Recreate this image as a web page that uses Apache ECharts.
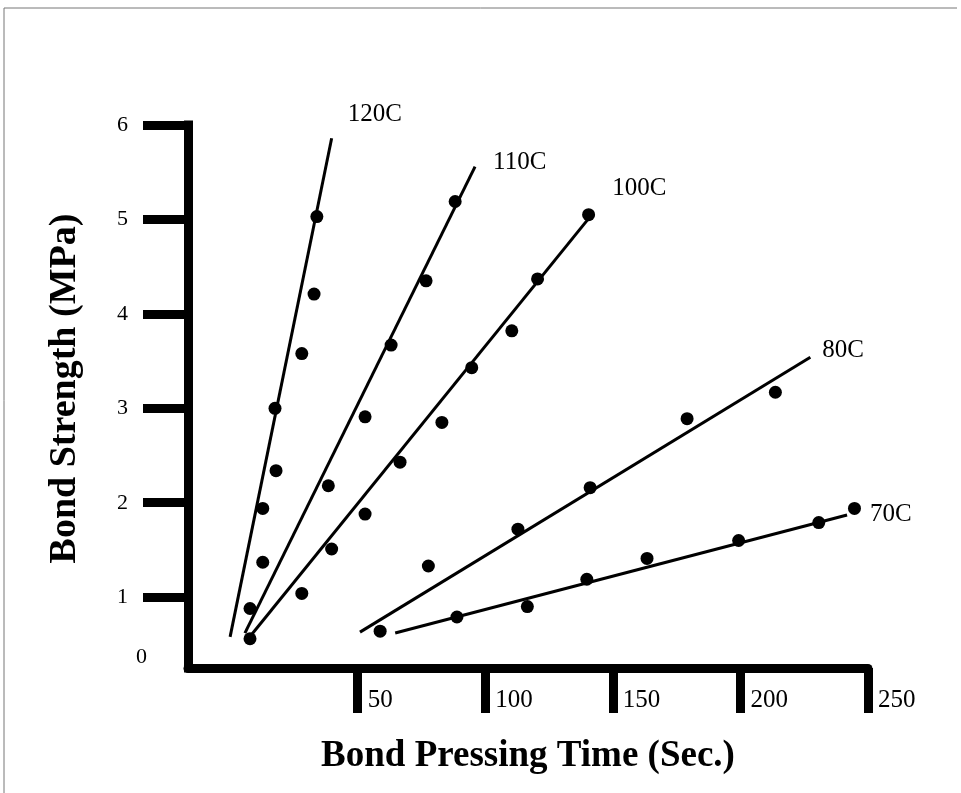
<!DOCTYPE html>
<html><head><meta charset="utf-8">
<script src="https://cdn.jsdelivr.net/npm/echarts@6/dist/echarts.min.js"></script>
<style>html,body{margin:0;padding:0;background:#fff}#c{width:961px;height:793px}</style>
</head><body><div id="c"></div>
<script>
// ---- data ----
const xTicks = [50, 100, 150, 200, 250];
const yTicks = [1, 2, 3, 4, 5, 6];
const zeroLabel = ['0'];
const seriesNames = ['120C', '110C', '100C', '80C', '70C'];

const pts120 = [[12.8,1.37],[12.8,1.94],[18.0,2.34],[17.6,3.00],[28.1,3.58],[32.9,4.21],[34.0,5.03]];
const pts110 = [[7.8,0.56],[7.8,0.88],[38.5,2.18],[52.9,2.91],[63.1,3.67],[76.8,4.35],[88.2,5.19]];
const pts100 = [[28.1,1.04],[39.8,1.51],[52.9,1.88],[66.6,2.43],[83.0,2.85],[94.7,3.43],[110.4,3.82],[120.5,4.37],[140.5,5.05]];
const pts80  = [[58.8,0.64],[77.7,1.33],[112.8,1.72],[141.1,2.16],[179.1,2.89],[213.7,3.17]];
const pts70  = [[88.9,0.79],[116.5,0.90],[139.8,1.19],[163.4,1.41],[199.3,1.60],[230.7,1.79],[244.7,1.94]];

const fit120 = [[0.0,0.58],[39.8,5.86]];
const fit110 = [[5.8,0.62],[96.0,5.56]];
const fit100 = [[7.1,0.56],[142.3,5.07]];
const fit80  = [[50.9,0.63],[227.4,3.54]];
const fit70  = [[64.7,0.62],[241.8,1.87]];

// ---- chart ----
const points = [pts120, pts110, pts100, pts80, pts70];
const fits = [fit120, fit110, fit100, fit80, fit70];
const labelOffsets = [[16,-24],[18,-4],[19,-24],[12,-7],[23,-1]];
const serif = 'Liberation Serif';

const series = [];
seriesNames.forEach((name, i) => {
  series.push({
    name: name, type: 'line', data: fits[i], symbol: 'none',
    lineStyle: {color: '#000', width: 3},
    endLabel: {show: true, formatter: '{a}', distance: 0, offset: labelOffsets[i],
      fontFamily: serif, fontSize: 25, color: '#000'},
    z: 2
  });
  series.push({
    name: name + ' data', type: 'scatter', data: points[i], symbol: 'circle', symbolSize: 13,
    itemStyle: {color: '#000', opacity: 1}, z: 3
  });
});

const chart = echarts.init(document.getElementById('c'), null, {renderer: 'canvas'});
chart.setOption({
  animation: false,
  backgroundColor: '#fff',
  grid: {left: 188, right: 93, top: 125, bottom: 125},
  xAxis: {
    type: 'value', min: -16.5, max: 250,
    axisLine: {onZero: false, lineStyle: {color: '#000', width: 9}},
    axisTick: {customValues: xTicks, length: 45, lineStyle: {color: '#000', width: 9}},
    axisLabel: {customValues: xTicks, align: 'left', padding: [0,0,0,10], margin: 20,
      fontFamily: serif, fontSize: 25, color: '#000'},
    splitLine: {show: false},
    name: 'Bond Pressing Time (Sec.)', nameLocation: 'middle', nameGap: 70,
    nameTextStyle: {fontFamily: serif, fontWeight: 'bold', fontSize: 37, color: '#000'}
  },
  yAxis: [{
    type: 'value', min: 0.25, max: 6,
    axisLine: {onZero: false, lineStyle: {color: '#000', width: 9, cap: 'square'}},
    axisTick: {customValues: yTicks, length: 45, lineStyle: {color: '#000', width: 9}},
    axisLabel: {customValues: yTicks, margin: 60, fontFamily: serif, fontSize: 22, color: '#000'},
    splitLine: {show: false},
    name: 'Bond Strength (MPa)', nameLocation: 'middle', nameGap: 104,
    nameTextStyle: {fontFamily: serif, fontWeight: 'bold', fontSize: 38, color: '#000', padding: [0,0,0,16]}
  }, {
    type: 'value', min: 0.25, max: 6, position: 'left',
    axisLine: {show: false, onZero: false}, axisTick: {show: false}, splitLine: {show: false},
    axisLabel: {customValues: [0.25], formatter: () => zeroLabel[0], margin: 41, verticalAlign: 'bottom',
      fontFamily: serif, fontSize: 22, color: '#000'}
  }],
  graphic: [{
    type: 'polyline', silent: true,
    shape: {points: [[4, 793], [4, 8], [957, 8]]},
    style: {stroke: '#777', fill: null, lineWidth: 1}
  }],
  series: series
});
</script></body></html>
